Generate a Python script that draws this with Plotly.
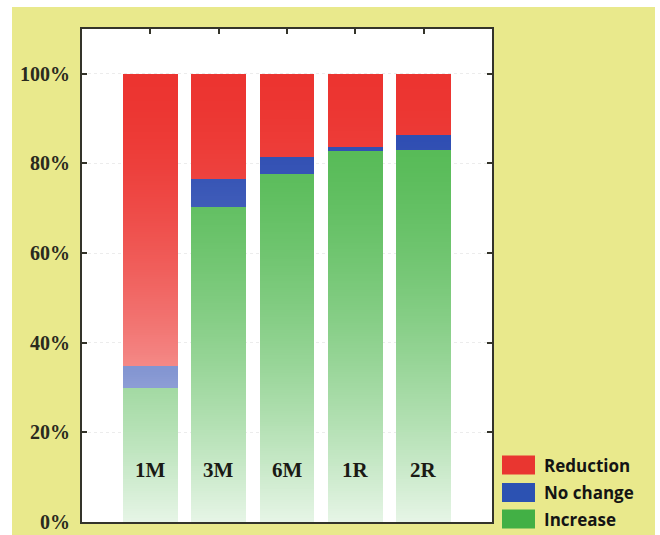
import math
import plotly.graph_objects as go

# ---------------- data ----------------
categories = ["1M", "3M", "6M", "1R", "2R"]
increase = [30.0, 70.3, 77.6, 82.8, 82.9]
no_change = [4.8, 6.3, 3.9, 0.9, 3.4]
reduction = [65.2, 23.4, 18.5, 16.3, 13.7]
series_names = ["Increase", "No change", "Reduction"]
y_ticks = [0, 20, 40, 60, 80, 100]
y_tick_labels = ["0%", "20%", "40%", "60%", "80%", "100%"]

# ---------------- style ----------------
BASE_RGB = {
    "Increase": (80, 184, 80),
    "No change": (40, 72, 176),
    "Reduction": (236, 52, 48),
}
LEGEND_RGB = {
    "Reduction": "#e93630",
    "No change": "#2c52b2",
    "Increase": "#42b045",
}
YELLOW = "#e9e98c"
SLICE = 0.5      # gradient slice height (in %)
TMAX, POW = 0.86, 1.7

W, H = 660, 535
ML, MR, MT, MB = 82, 168, 29, 13
PW, PH = W - ML - MR, H - MT - MB


def shade(rgb, v):
    t = TMAX * max(0.0, 1 - v / 100.0) ** POW
    r, g, b = (round(c + (255 - c) * t) for c in rgb)
    return f"rgb({r},{g},{b})"


fig = go.Figure()

values = {"Increase": increase, "No change": no_change, "Reduction": reduction}
cum = [0.0] * len(categories)
for name in series_names:
    xs, bases, ys, cols = [], [], [], []
    for i, cat in enumerate(categories):
        a = cum[i]
        b = a + values[name][i]
        n = max(1, math.ceil((b - a) / SLICE))
        h = (b - a) / n
        for k in range(n):
            lo = a + k * h
            xs.append(cat)
            bases.append(lo)
            ys.append(h)
            cols.append(shade(BASE_RGB[name], lo + h / 2))
        cum[i] = b
    fig.add_trace(go.Bar(
        x=xs, y=ys, base=bases, name=name, width=0.8,
        marker=dict(color=cols, line=dict(width=0)),
        showlegend=False, hoverinfo="skip",
    ))

# category labels inside the plot
for cat in categories:
    fig.add_annotation(
        x=cat, y=11.6, xref="x", yref="y", text=cat, showarrow=False,
        font=dict(family="Liberation Serif", size=21, color="#1a1a14", weight="bold"),
    )


# manual legend (paper coordinates derived from pixel layout)
def px2x(px):
    return (px - ML) / PW


def px2y(py):
    return (H - MB - py) / PH


legend_rows = [("Reduction", 465), ("No change", 492.5), ("Increase", 519)]
for name, cy in legend_rows:
    fig.add_shape(
        type="rect", xref="paper", yref="paper",
        x0=px2x(502), x1=px2x(535), y0=px2y(cy - 9.5), y1=px2y(cy + 9.5),
        fillcolor=LEGEND_RGB[name], line=dict(width=0), layer="above",
    )
    fig.add_annotation(
        x=px2x(542), y=px2y(cy), xref="paper", yref="paper", text=name,
        showarrow=False, xanchor="left", yanchor="middle",
        font=dict(family="Open Sans", size=17, color="#141414", weight="bold"),
    )

# white strips around the yellow panel
for x0, x1, y0, y1 in [(0, 12, 0, H), (0, W, 0, 7), (655, W, 0, H)]:
    fig.add_shape(
        type="rect", xref="paper", yref="paper",
        x0=px2x(x0), x1=px2x(x1), y0=px2y(y1), y1=px2y(y0),
        fillcolor="white", line=dict(width=0), layer="below",
    )

fig.update_layout(
    width=W, height=H,
    margin=dict(l=ML, r=MR, t=MT, b=MB, autoexpand=False),
    paper_bgcolor=YELLOW, plot_bgcolor="white",
    barmode="overlay", bargap=0,
    showlegend=False,
    xaxis=dict(
        type="category", categoryorder="array", categoryarray=categories,
        range=[-1, len(categories)], showticklabels=False, ticks="",
        showline=True, linecolor="#34342a", linewidth=2, mirror=True,
        showgrid=False, zeroline=False, fixedrange=True, automargin=False,
    ),
    xaxis2=dict(
        overlaying="x", side="top", type="linear",
        range=[-1, len(categories)], tickmode="array",
        tickvals=list(range(len(categories))), showticklabels=False,
        ticks="inside", ticklen=5, tickwidth=1.5, tickcolor="#34342a",
        showline=False, showgrid=False, zeroline=False, fixedrange=True,
        automargin=False,
    ),
    yaxis=dict(
        range=[0, 110], tickmode="array", tickvals=y_ticks, ticktext=y_tick_labels,
        ticks="inside", ticklen=5, tickwidth=1.5, tickcolor="#34342a",
        showline=True, linecolor="#34342a", linewidth=2, mirror="ticks",
        showgrid=True, gridcolor="#ececec", griddash="dot", gridwidth=1,
        zeroline=False, ticklabelstandoff=6, fixedrange=True, automargin=False,
        tickfont=dict(family="Liberation Serif", size=20, color="#2a2a1e", weight="bold"),
    ),
)

# invisible trace to activate the top axis
fig.add_trace(go.Scatter(x=[None], y=[None], xaxis="x2", yaxis="y",
                         showlegend=False, hoverinfo="skip"))

fig.write_html("out.html", config={"displayModeBar": False})
